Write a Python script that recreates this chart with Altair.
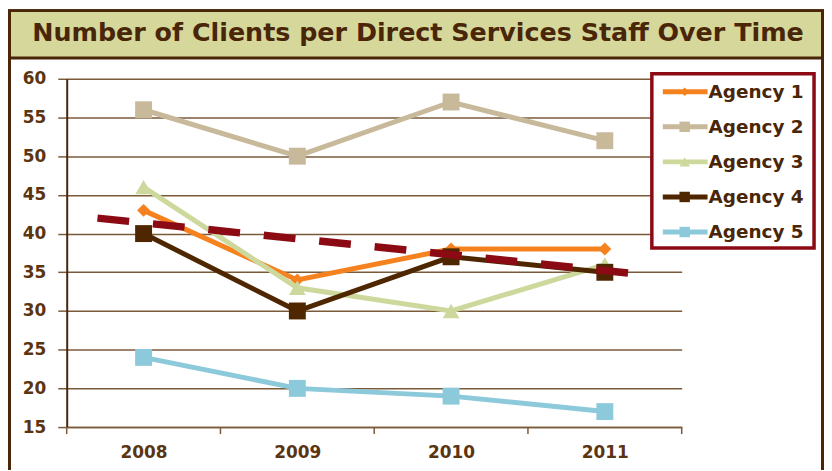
import altair as alt
import pandas as pd

# ---------------- data ----------------
years = [2008, 2009, 2010, 2011]
agencies = ["Agency 1", "Agency 2", "Agency 3", "Agency 4", "Agency 5"]
agency1 = [43, 34, 38, 38]
agency2 = [56, 50, 57, 52]
agency3 = [46, 33, 30, 36]
agency4 = [40, 30, 37, 35]
agency5 = [24, 20, 19, 17]
trend_years = [2007.7, 2011.3]
trend_values = [42.0, 34.6]
y_ticks = [15, 20, 25, 30, 35, 40, 45, 50, 55, 60]
title_text = "Number of Clients per Direct Services Staff Over Time"

series = [agency1, agency2, agency3, agency4, agency5]

# ---------------- styles ----------------
colors = ["#f5821f", "#c9b99b", "#cdd89c", "#4e2700", "#8ccadb"]
shapes = ["diamond", "square", "triangle-up", "square", "square"]
marker_sizes = [170, 289, 280, 289, 289]
legend_sizes = [70, 110, 110, 110, 110]
TREND_COLOR = "#8c0a14"
DARK = "#4a2608"
GRID = "#7b5a3a"
LABEL = "#5b3410"
FONT = "DejaVu Sans"

W, H = 618, 350
PAD_L, PAD_T = 59, 70
TOTAL_W, TOTAL_H = 820, 462

X = alt.X(
    "year:Q",
    scale=alt.Scale(domain=[2007.5, 2011.5], nice=False, zero=False),
    axis=alt.Axis(
        values=years, format="d", ticks=False, grid=False, labelPadding=18,
        domainColor=GRID, domainWidth=1.5, labelFont=FONT, labelFontSize=17,
        labelFontWeight="bold", labelColor=LABEL, title=None,
    ),
)
Y = alt.Y(
    "value:Q",
    scale=alt.Scale(domain=[15, 60], nice=False, zero=False),
    axis=alt.Axis(
        values=y_ticks, grid=True, gridColor=GRID, gridWidth=1.5,
        tickSize=9, tickColor=GRID, tickWidth=1.5, domainColor=DARK,
        domainWidth=2, labelFont=FONT, labelFontSize=17, labelFontWeight="bold",
        labelColor=LABEL, labelPadding=12, title=None,
    ),
)

# ---------------- main plot ----------------
layers = []
for i, name in enumerate(agencies):
    df = pd.DataFrame({"year": years, "value": series[i]})
    base = alt.Chart(df)
    layers.append(base.mark_line(color=colors[i], strokeWidth=5).encode(x=X, y=Y))
    layers.append(
        base.mark_point(
            shape=shapes[i], filled=True, color=colors[i], opacity=1,
            size=marker_sizes[i], strokeWidth=0,
        ).encode(x=X, y=Y)
    )

trend_df = pd.DataFrame({"year": trend_years, "value": trend_values})
layers.append(
    alt.Chart(trend_df)
    .mark_line(color=TREND_COLOR, strokeWidth=7.5, strokeDash=[32, 24])
    .encode(x=X, y=Y)
)

bounds = [y - 0.5 for y in years] + [years[-1] + 0.5]
bound_df = pd.DataFrame({"year": bounds})
layers.append(
    alt.Chart(bound_df)
    .mark_rule(color=GRID, strokeWidth=1.5)
    .encode(x=X, y=alt.value(H), y2=alt.value(H + 7))
)
main = alt.layer(*layers)

# ---------------- decorations ----------------
one = pd.DataFrame({"a": [0]})
frame = alt.Chart(one).mark_rect(
    fillOpacity=0, stroke=DARK, strokeWidth=3
).encode(
    x=alt.value(-PAD_L + 1.5), x2=alt.value(TOTAL_W - PAD_L - 1.5),
    y=alt.value(-PAD_T + 1.5), y2=alt.value(TOTAL_H + 20),
)
title_box = alt.Chart(one).mark_rect(
    fill="#d5d79b", stroke=DARK, strokeWidth=3
).encode(
    x=alt.value(-PAD_L + 1.5), x2=alt.value(TOTAL_W - PAD_L - 1.5),
    y=alt.value(-PAD_T + 1.5), y2=alt.value(-21),
)
title = alt.Chart(one).mark_text(
    font=FONT, fontSize=25.5, fontWeight="bold", color=DARK,
    align="center", baseline="alphabetic",
).encode(x=alt.value(353), y=alt.value(-38), text=alt.value(title_text))

# ---------------- legend ----------------
leg_df = pd.DataFrame({"rank": list(range(len(agencies))), "agency": agencies})
LY = alt.Y("rank:Q", scale=alt.Scale(domain=[0, 4], range=[13, 154]), axis=None)
LC = alt.Color("agency:N", scale=alt.Scale(domain=agencies, range=colors), legend=None)

leg_box = alt.Chart(one).mark_rect(
    fill="white", stroke=TREND_COLOR, strokeWidth=3.5
).encode(x=alt.value(588), x2=alt.value(751), y=alt.value(-5), y2=alt.value(170))
leg_lines = alt.Chart(leg_df).mark_rule(strokeWidth=5).encode(
    x=alt.value(599), x2=alt.value(644), y=LY, color=LC
)
leg_marks = []
for i, name in enumerate(agencies):
    leg_marks.append(
        alt.Chart(leg_df.iloc[[i]]).mark_point(
            shape=shapes[i], filled=True, color=colors[i], opacity=1,
            size=legend_sizes[i], strokeWidth=0,
        ).encode(x=alt.value(621), y=LY)
    )
leg_text = alt.Chart(leg_df).mark_text(
    font=FONT, fontSize=18.5, fontWeight="bold", color=DARK,
    align="left", baseline="middle",
).encode(x=alt.value(645), y=LY, text="agency:N")
legend = alt.layer(leg_box, leg_lines, *leg_marks, leg_text)

chart = (
    alt.layer(frame, title_box, title, main, legend)
    .resolve_scale(x="independent", y="independent", color="independent")
    .properties(
        width=W, height=H, autosize="none",
        padding={"left": PAD_L, "top": PAD_T,
                 "right": TOTAL_W - PAD_L - W, "bottom": TOTAL_H - PAD_T - H},
        view=alt.ViewBackground(strokeWidth=0, stroke="transparent"),
    )
    .configure_view(strokeWidth=0, stroke="transparent")
    .configure(background="white")
)

chart.save("out.html", embed_options={"renderer": "svg", "actions": False})
